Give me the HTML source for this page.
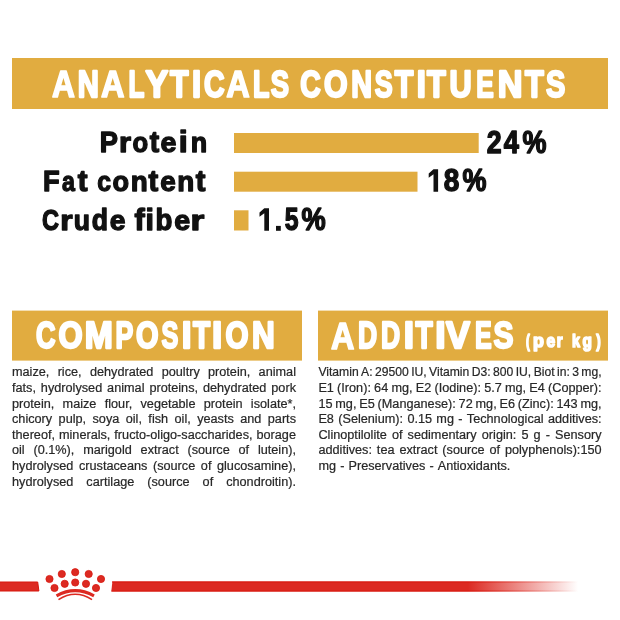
<!DOCTYPE html>
<html><head><meta charset="utf-8"><style>
html,body{margin:0;padding:0;background:#fff;width:620px;height:620px;overflow:hidden}
svg{display:block;will-change:transform}
text{font-family:"Liberation Sans",sans-serif}
</style></head><body>
<svg width="620" height="620" viewBox="0 0 620 620">
<defs><linearGradient id="fade" x1="0" x2="1" y1="0" y2="0">
<stop offset="0" stop-color="#DC2A22" stop-opacity="1"/>
<stop offset="0.764" stop-color="#DC2A22" stop-opacity="1"/>
<stop offset="1" stop-color="#DC2A22" stop-opacity="0"/>
</linearGradient>
<linearGradient id="fade2" x1="0" x2="1" y1="0" y2="0">
<stop offset="0" stop-color="#D8160C" stop-opacity="1"/>
<stop offset="0.764" stop-color="#D8160C" stop-opacity="1"/>
<stop offset="1" stop-color="#D8160C" stop-opacity="0"/>
</linearGradient></defs>
<rect x="0" y="0" width="620" height="620" fill="#fff"/>
<rect x="12" y="58" width="596" height="51" fill="#E1AC40"/>
<rect x="234" y="133" width="244.7" height="20" fill="#E1AC40"/>
<rect x="234" y="171.7" width="183.5" height="20" fill="#E1AC40"/>
<rect x="234" y="210.3" width="14.5" height="20.2" fill="#E1AC40"/>
<rect x="12" y="310.6" width="290" height="50" fill="#E1AC40"/>
<rect x="318" y="310.6" width="290" height="50" fill="#E1AC40"/>
<g font-weight="bold" font-size="36.2" fill="#fff" stroke="#fff" stroke-width="2.3" stroke-linejoin="round"><text stroke-width="1.61" transform="translate(52.01 97.19) scale(0.8765 1.0260)">A</text><text transform="translate(77.71 96.85) scale(0.8066 1)">N</text><text stroke-width="1.61" transform="translate(101.02 97.19) scale(0.8982 1.0260)">A</text><text transform="translate(128.39 96.85) scale(0.7183 1)">L</text><text transform="translate(145.38 96.85) scale(0.9392 1)">Y</text><text transform="translate(169.96 96.85) scale(0.8354 1)">T</text><text transform="translate(191.93 96.85) scale(0.9036 1)">I</text><text transform="translate(204.12 96.85) scale(0.7875 1)">C</text><text stroke-width="1.61" transform="translate(226.22 97.19) scale(0.8982 1.0260)">A</text><text transform="translate(253.07 96.85) scale(0.7418 1)">L</text><text transform="translate(270.71 96.85) scale(0.7572 1)">S</text><text transform="translate(300.32 96.85) scale(0.7839 1)">C</text><text transform="translate(324.03 96.85) scale(0.8375 1)">O</text><text transform="translate(351.32 96.85) scale(0.7942 1)">N</text><text transform="translate(374.81 96.85) scale(0.7407 1)">S</text><text transform="translate(394.77 96.85) scale(0.8395 1)">T</text><text transform="translate(416.73 96.85) scale(0.9036 1)">I</text><text transform="translate(426.97 96.85) scale(0.8477 1)">T</text><text transform="translate(449.48 96.85) scale(0.8477 1)">U</text><text transform="translate(476.28 96.85) scale(0.7253 1)">E</text><text transform="translate(497.80 96.85) scale(0.9465 1)">N</text><text transform="translate(524.97 96.85) scale(0.8477 1)">T</text><text transform="translate(545.92 96.85) scale(0.7984 1)">S</text></g>
<g font-weight="bold" font-size="30.4" fill="#111" stroke="#111" stroke-width="1.4" stroke-linejoin="round"><text transform="translate(99.63 152.40) scale(0.8969 1)">P</text><text transform="translate(118.88 152.40) scale(1.0175 0.903)">r</text><text transform="translate(132.45 152.40) scale(0.8424 0.903)">o</text><text transform="translate(149.85 152.40) scale(0.9298 1)">t</text><text transform="translate(160.52 152.40) scale(0.9451 0.903)">e</text><text transform="translate(178.82 152.40) scale(1.0625 1)">i</text><text transform="translate(190.65 152.40) scale(0.8841 0.903)">n</text></g>
<g font-weight="bold" font-size="30.4" fill="#111" stroke="#111" stroke-width="1.4" stroke-linejoin="round"><text transform="translate(42.93 191.10) scale(0.8966 1)">F</text><text transform="translate(61.93 191.10) scale(0.7629 0.903)">a</text><text transform="translate(77.68 191.10) scale(0.9649 1)">t</text><text transform="translate(97.36 191.10) scale(0.8161 0.903)">c</text><text transform="translate(112.43 191.10) scale(0.8913 0.903)">o</text><text transform="translate(130.71 191.10) scale(0.9146 0.903)">n</text><text transform="translate(148.47 191.10) scale(0.9561 1)">t</text><text transform="translate(160.32 191.10) scale(0.9207 0.903)">e</text><text transform="translate(177.31 191.10) scale(0.9146 0.903)">n</text><text transform="translate(195.67 191.10) scale(0.9561 1)">t</text></g>
<g font-weight="bold" font-size="30.4" fill="#111" stroke="#111" stroke-width="1.4" stroke-linejoin="round"><text transform="translate(41.97 229.70) scale(0.7768 1)">C</text><text transform="translate(60.24 229.70) scale(1.0439 0.903)">r</text><text transform="translate(73.84 229.70) scale(0.8736 0.903)">u</text><text transform="translate(91.84 229.70) scale(0.8736 1)">d</text><text transform="translate(109.82 229.70) scale(0.9329 0.903)">e</text><text transform="translate(134.41 229.70) scale(1.0081 1)">f</text><text transform="translate(145.40 229.70) scale(1.0000 1)">i</text><text transform="translate(155.52 229.70) scale(0.9080 1)">b</text><text transform="translate(174.22 229.70) scale(0.9451 0.903)">e</text><text transform="translate(190.48 229.70) scale(1.1667 0.903)">r</text></g>
<g font-weight="bold" font-size="31.5" fill="#111" stroke="#111" stroke-width="1.4" stroke-linejoin="round"><text transform="translate(486.84 152.60) scale(0.8506 1)">2</text><text transform="translate(503.81 152.60) scale(0.8660 1)">4</text><text transform="translate(522.50 152.60) scale(0.8571 1)">%</text></g>
<g font-weight="bold" font-size="31.5" fill="#111" stroke="#111" stroke-width="1.4" stroke-linejoin="round"><text transform="translate(443.63 191.00) scale(0.8908 1)">8</text><text transform="translate(462.50 191.00) scale(0.8571 1)">%</text></g>
<g font-weight="bold" font-size="31.5" fill="#111" stroke="#111" stroke-width="1.4" stroke-linejoin="round"><text transform="translate(284.65 229.50) scale(0.7880 1)">5</text><text transform="translate(301.40 229.50) scale(0.8639 1)">%</text></g>
<g font-weight="bold" font-size="36.4" fill="#fff" stroke="#fff" stroke-width="2.3" stroke-linejoin="round"><text transform="translate(36.01 348.45) scale(0.7436 1)">C</text><text transform="translate(58.43 348.45) scale(0.8516 1)">O</text><text transform="translate(84.81 348.45) scale(0.9258 1)">M</text><text transform="translate(115.38 348.45) scale(0.7325 1)">P</text><text transform="translate(136.02 348.45) scale(0.7951 1)">O</text><text transform="translate(161.60 348.45) scale(0.6914 1)">S</text><text transform="translate(181.68 348.45) scale(0.9639 1)">I</text><text transform="translate(192.89 348.45) scale(0.7737 1)">T</text><text transform="translate(212.04 348.45) scale(1.0120 1)">I</text><text transform="translate(225.62 348.45) scale(0.8127 1)">O</text><text transform="translate(251.97 348.45) scale(0.8642 1)">N</text></g>
<g font-weight="bold" font-size="36.9" fill="#fff" stroke="#fff" stroke-width="2.3" stroke-linejoin="round"><text stroke-width="1.61" transform="translate(330.91 348.59) scale(0.8765 1.0256)">A</text><text transform="translate(357.89 348.25) scale(0.7186 1)">D</text><text transform="translate(380.99 348.25) scale(0.7186 1)">D</text><text transform="translate(403.85 348.25) scale(1.0000 1)">I</text><text transform="translate(415.58 348.25) scale(0.7628 1)">T</text><text transform="translate(435.24 348.25) scale(1.0120 1)">I</text><text transform="translate(446.12 348.25) scale(0.9707 1)">V</text><text transform="translate(475.02 348.25) scale(0.6790 1)">E</text><text transform="translate(493.62 348.25) scale(0.8103 1)">S</text></g>
<g font-weight="bold" font-size="18.8" fill="#fff" stroke="#fff" stroke-width="1.7" stroke-linejoin="round"><text transform="translate(526.02 347.05) scale(0.6092 1)">(</text><text transform="translate(533.06 347.05) scale(0.9487 0.95)">p</text><text transform="translate(546.40 347.05) scale(0.8291 0.95)">e</text><text transform="translate(556.68 347.05) scale(0.7931 0.95)">r</text><text transform="translate(571.88 347.05) scale(0.7692 1)">k</text><text transform="translate(582.40 347.05) scale(0.8189 0.95)">g</text><text transform="translate(596.21 347.05) scale(0.7143 1)">)</text></g>
<g fill="#111">
<path d="M264.3 208.2 L269 208.2 L269 230.8 L264.3 230.8 L264.3 213.2 L259.5 216.8 L259.5 212.6 Z"/>
<rect x="276" y="225.9" width="4.8" height="4.9"/>
<path d="M433.5 169.2 L438.1 169.2 L438.1 191.8 L433.5 191.8 L433.5 174.2 L428.7 177.8 L428.7 173.6 Z"/>
</g>
<g font-size="13.5" fill="#282828" stroke="#282828" stroke-width="0.22">
<text transform="translate(12.00 376.40) scale(0.9400 1)">maize,</text><text transform="translate(57.65 376.40) scale(0.9400 1)">rice,</text><text transform="translate(89.89 376.40) scale(0.9400 1)">dehydrated</text><text transform="translate(161.66 376.40) scale(0.9400 1)">poultry</text><text transform="translate(208.02 376.40) scale(0.9400 1)">protein,</text><text transform="translate(258.62 376.40) scale(0.9400 1)">animal</text>
<text transform="translate(12.00 392.00) scale(0.9400 1)">fats,</text><text transform="translate(40.86 392.00) scale(0.9400 1)">hydrolysed</text><text transform="translate(107.11 392.00) scale(0.9400 1)">animal</text><text transform="translate(149.38 392.00) scale(0.9400 1)">proteins,</text><text transform="translate(202.93 392.00) scale(0.9400 1)">dehydrated</text><text transform="translate(271.31 392.00) scale(0.9400 1)">pork</text>
<text transform="translate(12.00 407.60) scale(0.9400 1)">protein,</text><text transform="translate(62.59 407.60) scale(0.9400 1)">maize</text><text transform="translate(104.71 407.60) scale(0.9400 1)">flour,</text><text transform="translate(140.49 407.60) scale(0.9400 1)">vegetable</text><text transform="translate(203.79 407.60) scale(0.9400 1)">protein</text><text transform="translate(250.85 407.60) scale(0.9400 1)">isolate*,</text>
<text transform="translate(12.00 423.20) scale(0.9400 1)">chicory</text><text transform="translate(58.60 423.20) scale(0.9400 1)">pulp,</text><text transform="translate(92.52 423.20) scale(0.9400 1)">soya</text><text transform="translate(125.73 423.20) scale(0.9400 1)">oil,</text><text transform="translate(148.36 423.20) scale(0.9400 1)">fish</text><text transform="translate(174.51 423.20) scale(0.9400 1)">oil,</text><text transform="translate(197.13 423.20) scale(0.9400 1)">yeasts</text><text transform="translate(240.21 423.20) scale(0.9400 1)">and</text><text transform="translate(267.79 423.20) scale(0.9400 1)">parts</text>
<text transform="translate(12.00 438.80) scale(0.9400 1)">thereof,</text><text transform="translate(58.94 438.80) scale(0.9400 1)">minerals,</text><text transform="translate(114.34 438.80) scale(0.9400 1)">fructo-oligo-saccharides,</text><text transform="translate(256.49 438.80) scale(0.9400 1)">borage</text>
<text transform="translate(12.00 454.40) scale(0.9400 1)">oil</text><text transform="translate(33.47 454.40) scale(0.9400 1)">(0.1%),</text><text transform="translate(83.15 454.40) scale(0.9400 1)">marigold</text><text transform="translate(140.60 454.40) scale(0.9400 1)">extract</text><text transform="translate(187.46 454.40) scale(0.9400 1)">(source</text><text transform="translate(238.55 454.40) scale(0.9400 1)">of</text><text transform="translate(257.91 454.40) scale(0.9400 1)">lutein),</text>
<text transform="translate(12.00 470.00) scale(0.9400 1)">hydrolysed</text><text transform="translate(78.95 470.00) scale(0.9400 1)">crustaceans</text><text transform="translate(152.95 470.00) scale(0.9400 1)">(source</text><text transform="translate(200.84 470.00) scale(0.9400 1)">of</text><text transform="translate(217.00 470.00) scale(0.9400 1)">glucosamine),</text>
<text transform="translate(12.00 485.60) scale(0.9400 1)">hydrolysed</text><text transform="translate(86.35 485.60) scale(0.9400 1)">cartilage</text><text transform="translate(147.30 485.60) scale(0.9400 1)">(source</text><text transform="translate(202.60 485.60) scale(0.9400 1)">of</text><text transform="translate(226.17 485.60) scale(0.9400 1)">chondroitin).</text>
<text transform="translate(318.40 376.40) scale(0.8998 1)">Vitamin</text><text transform="translate(361.08 376.40) scale(0.8998 1)">A:</text><text transform="translate(374.96 376.40) scale(0.8998 1)">29500</text><text transform="translate(411.14 376.40) scale(0.8998 1)">IU,</text><text transform="translate(429.06 376.40) scale(0.8998 1)">Vitamin</text><text transform="translate(471.74 376.40) scale(0.8998 1)">D3:</text><text transform="translate(493.05 376.40) scale(0.8998 1)">800</text><text transform="translate(515.71 376.40) scale(0.8998 1)">IU,</text><text transform="translate(533.64 376.40) scale(0.8998 1)">Biot</text><text transform="translate(556.97 376.40) scale(0.8998 1)">in:</text><text transform="translate(572.20 376.40) scale(0.8998 1)">3</text><text transform="translate(581.35 376.40) scale(0.8998 1)">mg,</text>
<text transform="translate(318.40 392.00) scale(0.9400 1)">E1</text><text transform="translate(337.10 392.00) scale(0.9400 1)">(Iron):</text><text transform="translate(374.12 392.00) scale(0.9400 1)">64</text><text transform="translate(391.41 392.00) scale(0.9400 1)">mg,</text><text transform="translate(415.74 392.00) scale(0.9400 1)">E2</text><text transform="translate(434.43 392.00) scale(0.9400 1)">(Iodine):</text><text transform="translate(484.16 392.00) scale(0.9400 1)">5.7</text><text transform="translate(504.98 392.00) scale(0.9400 1)">mg,</text><text transform="translate(529.31 392.00) scale(0.9400 1)">E4</text><text transform="translate(548.00 392.00) scale(0.9400 1)">(Copper):</text>
<text transform="translate(318.40 407.60) scale(0.9400 1)">15</text><text transform="translate(335.30 407.60) scale(0.9400 1)">mg,</text><text transform="translate(359.23 407.60) scale(0.9400 1)">E5</text><text transform="translate(377.54 407.60) scale(0.9400 1)">(Manganese):</text><text transform="translate(458.62 407.60) scale(0.9400 1)">72</text><text transform="translate(475.52 407.60) scale(0.9400 1)">mg,</text><text transform="translate(499.45 407.60) scale(0.9400 1)">E6</text><text transform="translate(517.76 407.60) scale(0.9400 1)">(Zinc):</text><text transform="translate(556.49 407.60) scale(0.9400 1)">143</text><text transform="translate(580.45 407.60) scale(0.9400 1)">mg,</text>
<text transform="translate(318.40 423.20) scale(0.9400 1)">E8</text><text transform="translate(338.21 423.20) scale(0.9400 1)">(Selenium):</text><text transform="translate(407.38 423.20) scale(0.9400 1)">0.15</text><text transform="translate(436.37 423.20) scale(0.9400 1)">mg</text><text transform="translate(458.29 423.20) scale(0.9400 1)">-</text><text transform="translate(466.80 423.20) scale(0.9400 1)">Technological</text><text transform="translate(547.99 423.20) scale(0.9400 1)">additives:</text>
<text transform="translate(318.40 438.80) scale(0.9400 1)">Clinoptilolite</text><text transform="translate(391.91 438.80) scale(0.9400 1)">of</text><text transform="translate(407.58 438.80) scale(0.9400 1)">sedimentary</text><text transform="translate(481.79 438.80) scale(0.9400 1)">origin:</text><text transform="translate(521.44 438.80) scale(0.9400 1)">5</text><text transform="translate(533.59 438.80) scale(0.9400 1)">g</text><text transform="translate(545.73 438.80) scale(0.9400 1)">-</text><text transform="translate(555.05 438.80) scale(0.9400 1)">Sensory</text>
<text transform="translate(318.40 454.40) scale(0.9400 1)">additives:</text><text transform="translate(376.87 454.40) scale(0.9400 1)">tea</text><text transform="translate(399.38 454.40) scale(0.9400 1)">extract</text><text transform="translate(442.32 454.40) scale(0.9400 1)">(source</text><text transform="translate(489.50 454.40) scale(0.9400 1)">of</text><text transform="translate(504.94 454.40) scale(0.9400 1)">polyphenols):150</text>
<text transform="translate(318.40 470.00) scale(0.9400 1)">mg</text><text transform="translate(340.13 470.00) scale(0.9400 1)">-</text><text transform="translate(348.45 470.00) scale(0.9400 1)">Preservatives</text><text transform="translate(429.43 470.00) scale(0.9400 1)">-</text><text transform="translate(437.75 470.00) scale(0.9400 1)">Antioxidants.</text>
</g>
<polygon points="-1,582 37.7,582 38.9,591 -1,591" fill="#DC2A22" stroke="#D8160C" stroke-width="1"/>
<polygon points="112.4,581.5 578,581.5 578,591.5 111.3,591.5" fill="url(#fade)"/>
<rect x="112" y="581.5" width="466" height="1" fill="url(#fade2)"/>
<rect x="111.5" y="590.5" width="466.5" height="1" fill="url(#fade2)"/>
<g fill="#DC2A22" stroke="#D8160C" stroke-width="0.8">
<circle cx="49.5" cy="579" r="3.6"/><circle cx="61.8" cy="574" r="3.6"/><circle cx="75.2" cy="572.2" r="3.6"/><circle cx="88.7" cy="574" r="3.6"/><circle cx="101" cy="579" r="3.6"/>
<circle cx="54.5" cy="588" r="3.6"/><circle cx="64.7" cy="583.8" r="3.6"/><circle cx="75.2" cy="582.5" r="3.6"/><circle cx="86" cy="583.8" r="3.6"/><circle cx="96" cy="588" r="3.6"/>
</g>
<path d="M56.5 595.8 Q75.2 585.6 94 595.8" stroke="#DC2A22" stroke-width="3.2" fill="none"/>
<path d="M58.5 599.6 Q75.2 588.9 92 599.6" stroke="#DC2A22" stroke-width="1.7" fill="none"/>
</svg>
</body></html>
